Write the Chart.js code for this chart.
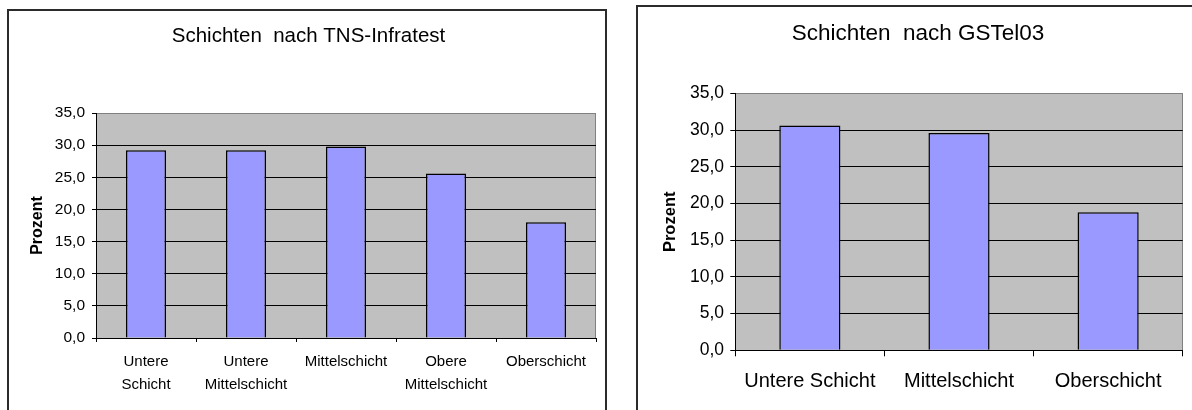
<!DOCTYPE html>
<html>
<head>
<meta charset="utf-8">
<script src="https://cdn.jsdelivr.net/npm/chart.js@4.4.1/dist/chart.umd.min.js"></script>
<style>
  html, body { margin: 0; padding: 0; background: #fff; width: 1192px; height: 410px; overflow: hidden; position: relative; }
  canvas { position: absolute; top: 0; }
  #tnsChart { left: 0; }
  #gstelChart { left: 620px; }
  .frame { position: absolute; border: 2px solid #2b2b2b; box-sizing: border-box; height: 440px; }
  #tnsFrame { left: 7px; top: 9px; width: 600px; }
  #gstelFrame { left: 636px; top: 5px; width: 620px; }
</style>
</head>
<body>
<canvas id="tnsChart" width="616" height="410"></canvas>
<canvas id="gstelChart" width="596" height="410"></canvas>
<div class="frame" id="tnsFrame"></div>
<div class="frame" id="gstelFrame"></div>
<script>
// Social strata according to TNS-Infratest
const tnsCategories = [['Untere', 'Schicht'], ['Untere', 'Mittelschicht'], 'Mittelschicht', ['Obere', 'Mittelschicht'], 'Oberschicht'];
const tnsValues = [29.2, 29.2, 29.8, 25.6, 18.0];

// Social strata according to GSTel03
const gstelCategories = ['Untere Schicht', 'Mittelschicht', 'Oberschicht'];
const gstelValues = [30.6, 29.6, 18.8];

// Shared value axis
const yTickValues = [0, 5, 10, 15, 20, 25, 30, 35];
const yTickLabels = ['0,0', '5,0', '10,0', '15,0', '20,0', '25,0', '30,0', '35,0'];

const tnsTitle = 'Schichten  nach TNS-Infratest';
const gstelTitle = 'Schichten  nach GSTel03';
const valueAxisTitle = 'Prozent';

const FONT = "'Liberation Sans', Arial, sans-serif";

// Grey plot background with a grey frame on the right side
const plotBackground = {
  id: 'plotBackground',
  beforeDraw(chart) {
    const { ctx, chartArea: a } = chart;
    ctx.save();
    ctx.fillStyle = '#c0c0c0';
    ctx.fillRect(a.left, a.top, a.right - a.left, a.bottom - a.top);
    ctx.strokeStyle = '#808080';
    ctx.lineWidth = 1;
    ctx.beginPath();
    ctx.moveTo(Math.round(a.right) - 0.5, a.top);
    ctx.lineTo(Math.round(a.right) - 0.5, a.bottom);
    ctx.stroke();
    ctx.restore();
  }
};

function makeBarChart(canvasId, s) {
  return new Chart(document.getElementById(canvasId), {
    type: 'bar',
    data: {
      labels: s.labels,
      datasets: [{
        data: s.values,
        backgroundColor: '#9999ff',
        borderColor: '#000000',
        borderWidth: 1.5,
        barPercentage: s.barPct,
        categoryPercentage: 1
      }]
    },
    plugins: [plotBackground],
    options: {
      responsive: false,
      animation: false,
      events: [],
      layout: { padding: { left: s.padLeft, right: s.padRight, top: 0, bottom: 0 } },
      plugins: {
        legend: { display: false },
        tooltip: { enabled: false },
        title: {
          display: true,
          text: s.title,
          color: '#000',
          font: { family: FONT, size: s.titleSize, weight: 'normal' },
          padding: { top: s.titlePadTop, bottom: s.titlePadBottom }
        }
      },
      scales: {
        x: {
          type: 'category',
          offset: true,
          afterFit(scale) { scale.height = s.xHeight; },
          grid: { offset: true, drawOnChartArea: false, drawTicks: true, tickLength: s.xTick, color: '#000' },
          border: { display: true, color: '#000', width: 1 },
          ticks: {
            color: '#000',
            autoSkip: false,
            maxRotation: 0,
            padding: s.xLabelPad,
            font: { family: FONT, size: s.xFontSize, lineHeight: s.xLineHeight }
          }
        },
        y: {
          min: 0,
          max: 35,
          afterFit(scale) { scale.width = s.yWidth; },
          afterBuildTicks(scale) { scale.ticks = yTickValues.map(v => ({ value: v })); },
          grid: {
            drawTicks: true,
            tickLength: s.yTick,
            tickColor: '#000',
            color: ctx => (ctx.tick && ctx.tick.value === 35 ? '#808080' : '#000000'),
            lineWidth: 1
          },
          border: { display: true, color: '#000', width: 1 },
          ticks: {
            color: '#000',
            padding: s.yLabelPad,
            font: { family: FONT, size: s.yFontSize },
            callback: (v, i) => yTickLabels[i]
          },
          title: {
            display: true,
            text: valueAxisTitle,
            color: '#000',
            font: { family: FONT, size: s.yTitleSize, weight: 'bold' },
            padding: { top: s.yTitlePad, bottom: 0 }
          }
        }
      }
    }
  });
}

makeBarChart('tnsChart', {
  labels: tnsCategories, values: tnsValues, title: tnsTitle, barPct: 0.4,
  padLeft: 21, padRight: 20,
  titleSize: 20.5, titlePadTop: 23.7, titlePadBottom: 64.7,
  xHeight: 72, xTick: 4, xLabelPad: 8.5, xFontSize: 15, xLineHeight: '23px',
  yWidth: 75, yTick: 4, yLabelPad: 7, yFontSize: 15.5,
  yTitleSize: 16, yTitlePad: 6.7
});

makeBarChart('gstelChart', {
  labels: gstelCategories, values: gstelValues, title: gstelTitle, barPct: 0.41,
  padLeft: 33.3, padRight: 33.3,
  titleSize: 22.5, titlePadTop: 19.8, titlePadBottom: 46.5,
  xHeight: 59.7, xTick: 6, xLabelPad: 13.4, xFontSize: 20, xLineHeight: 1.2,
  yWidth: 82, yTick: 5, yLabelPad: 6.3, yFontSize: 17.5,
  yTitleSize: 16.5, yTitlePad: 7.6
});
</script>
</body>
</html>
